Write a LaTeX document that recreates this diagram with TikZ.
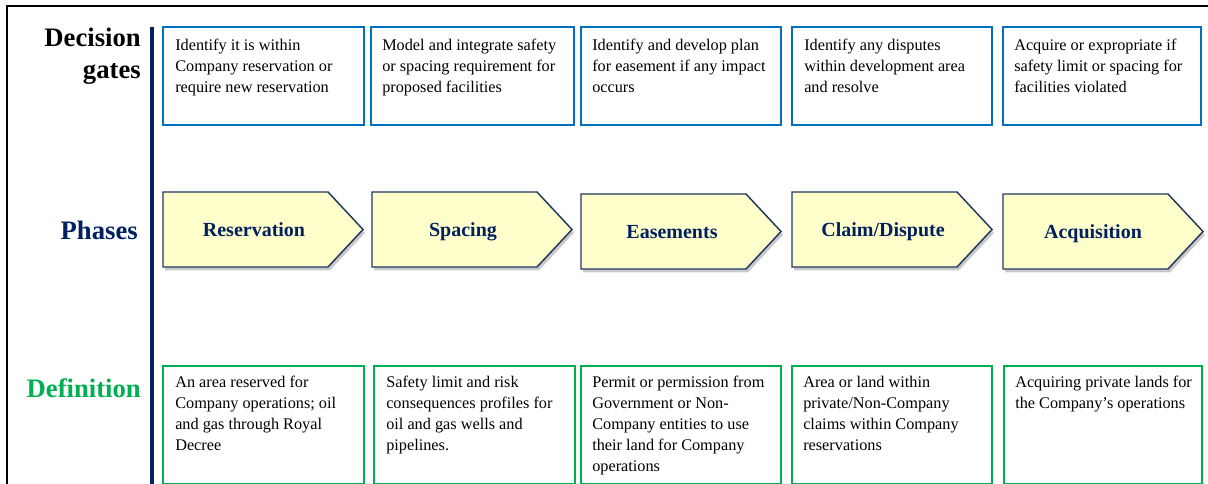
\documentclass[tikz,border=0pt]{standalone}
\usepackage{fontspec}
\setmainfont{Liberation Serif}
\usetikzlibrary{shadows}
\definecolor{navy}{HTML}{002060}
\definecolor{chevborder}{HTML}{1F3864}
\definecolor{gateblue}{HTML}{0070C0}
\definecolor{defgreen}{HTML}{00B050}
\definecolor{chevfill}{HTML}{FFFFCC}
\begin{document}
\begin{tikzpicture}[x=0.75pt,y=-0.75pt,
  rowlabel/.style={font=\fontsize{20}{24}\selectfont\bfseries, inner sep=0, anchor=base east},
  gatebox/.style={draw=gateblue, line width=1.5pt},
  defbox/.style={draw=defgreen, line width=1.5pt},
  boxtext/.style={font=\fontsize{12.2}{15.75}\selectfont, align=left, inner sep=0, anchor=north west},
  chev/.style={draw=chevborder, line width=1.1pt, fill=chevfill,
    drop shadow={shadow xshift=1.5pt, shadow yshift=-2.5pt, opacity=0.35, fill=black!60}},
  phasetext/.style={font=\fontsize{15}{18}\selectfont\bfseries, text=navy, inner sep=0, anchor=base}]
\useasboundingbox (0,0) rectangle (1208,484);
\clip (0,0) rectangle (1208,484);
\fill[white] (0,0) rectangle (1208,484);
% outer frame
\draw[line width=1.5pt] (7,490) -- (7,6) -- (1215,6);
% navy divider
\draw[navy, line width=2.3pt] (152,27) -- (152,490);
% row labels
\node[rowlabel] (lab1) at (141,47) {Decision};
\node[rowlabel] (lab2) at (141,79) {gates};
\node[rowlabel, text=navy] (lab3) at (138,240) {Phases};
\node[rowlabel, text=defgreen] (lab4) at (141,398) {Definition};
% decision gate boxes
\draw[gatebox] (163,27) rectangle (364,125);
\draw[gatebox] (371,27) rectangle (574,125);
\draw[gatebox] (581,27) rectangle (781,125);
\draw[gatebox] (792,27) rectangle (992,125);
\draw[gatebox] (1003,27) rectangle (1201,125);
\node[boxtext] (g1) at (175,39) {Identify it is within\\Company reservation or\\require new reservation};
\node[boxtext] (g2) at (382,39) {Model and integrate safety\\or spacing requirement for\\proposed facilities};
\node[boxtext] (g3) at (592,39) {Identify and develop plan\\for easement if any impact\\occurs};
\node[boxtext] (g4) at (804,39) {Identify any disputes\\within development area\\and resolve};
\node[boxtext] (g5) at (1014,39) {Acquire or expropriate if\\safety limit or spacing for\\facilities violated};
% phase chevrons
\draw[chev] (163,192) -- ++(165,0) -- ++(35,37.5) -- ++(-35,37.5) -- ++(-165,0) -- cycle;
\draw[chev] (372,192) -- ++(165,0) -- ++(35,37.5) -- ++(-35,37.5) -- ++(-165,0) -- cycle;
\draw[chev] (581,194) -- ++(165,0) -- ++(35,37.5) -- ++(-35,37.5) -- ++(-165,0) -- cycle;
\draw[chev] (792,192) -- ++(165,0) -- ++(35,37.5) -- ++(-35,37.5) -- ++(-165,0) -- cycle;
\draw[chev] (1003,194) -- ++(165,0) -- ++(35,37.5) -- ++(-35,37.5) -- ++(-165,0) -- cycle;
\node[phasetext] (p1) at (254,237) {Reservation};
\node[phasetext] (p2) at (463,237) {Spacing};
\node[phasetext] (p3) at (672,239) {Easements};
\node[phasetext] (p4) at (883,237) {Claim/Dispute};
\node[phasetext] (p5) at (1093,239) {Acquisition};
% definition boxes
\draw[defbox] (163,366) rectangle (364,484);
\draw[defbox] (374,366) rectangle (575,484);
\draw[defbox] (581,366) rectangle (781,484);
\draw[defbox] (792,366) rectangle (992,484);
\draw[defbox] (1004,366) rectangle (1202,484);
\node[boxtext] (d1) at (175,376) {An area reserved for\\Company operations; oil\\and gas through Royal\\Decree};
\node[boxtext] (d2) at (386,376) {Safety limit and risk\\consequences profiles for\\oil and gas wells and\\pipelines.};
\node[boxtext] (d3) at (592,376) {Permit or permission from\\Government or Non-\\Company entities to use\\their land for Company\\operations};
\node[boxtext] (d4) at (803,376) {Area or land within\\private/Non-Company\\claims within Company\\reservations};
\node[boxtext] (d5) at (1015,376) {Acquiring private lands for\\the Company’s operations};
\end{tikzpicture}
\end{document}
